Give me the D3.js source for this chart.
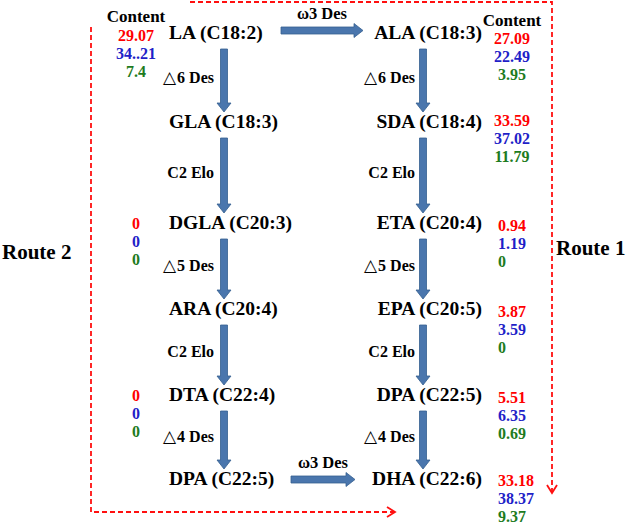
<!DOCTYPE html>
<html>
<head>
<meta charset="utf-8">
<script src="https://cdn.jsdelivr.net/npm/d3@7/dist/d3.min.js"></script>
<style>
  html, body { margin: 0; padding: 0; background: #fff; }
  text { font-family: "Liberation Serif", "Times New Roman", serif; font-weight: bold; }
</style>
</head>
<body>
<div id="chart"></div>
<script>
// ---------- data ----------
const leftNodes  = ["LA (C18:2)", "GLA (C18:3)", "DGLA (C20:3)", "ARA (C20:4)", "DTA (C22:4)", "DPA (C22:5)"];
const rightNodes = ["ALA (C18:3)", "SDA (C18:4)", "ETA (C20:4)", "EPA (C20:5)", "DPA (C22:5)", "DHA (C22:6)"];
const leftEnzymes  = ["△6 Des", "C2 Elo", "△5 Des", "C2 Elo", "△4 Des"];
const rightEnzymes = ["△6 Des", "C2 Elo", "△5 Des", "C2 Elo", "△4 Des"];
const crossEnzymes = ["ω3 Des", "ω3 Des"];          // LA→ALA (row 0), DPA→DHA (row 5)
const crossRows = [0, 5];
const contentTitle = "Content";
// content values per row (three samples each); null = no values shown
const leftContent = [
  ["29.07", "34..21", "7.4"], null, ["0", "0", "0"], null, ["0", "0", "0"], null
];
const rightContent = [
  ["27.09", "22.49", "3.95"], ["33.59", "37.02", "11.79"], ["0.94", "1.19", "0"],
  ["3.87", "3.59", "0"], ["5.51", "6.35", "0.69"], ["33.18", "38.37", "9.37"]
];
const routeLabels = ["Route 1", "Route 2"];

// ---------- layout / style ----------
const W = 637, H = 524;
const sampleColors = ["#ff0000", "#1f1fc8", "#1e7b1e"];
const arrowFill = "#4a76ad", arrowStroke = "#35608f", routeColor = "#ff1010";

const rowY = d3.scaleOrdinal().domain(d3.range(6)).range([39, 128, 229, 315, 401, 485]);
const colX = d3.scaleOrdinal().domain(["left", "right"]).range([224, 423]);   // arrow axes
const nodeX = d3.scaleOrdinal().domain(["left", "right"]).range([169, 482]);
const nodeAnchor = { left: "start", right: "end" };
const enzX = d3.scaleOrdinal().domain(["left", "right"]).range([214, 415]);
const valStep = 18;

const svg = d3.select("#chart").append("svg").attr("width", W).attr("height", H);

// vertical block arrow (down)
function vArrow(x, y0, y1) {
  const sw = 3.5, hw = 7, hl = 9;
  return `M${x - sw},${y0} L${x + sw},${y0} L${x + sw},${y1 - hl} L${x + hw},${y1 - hl} L${x},${y1} L${x - hw},${y1 - hl} L${x - sw},${y1 - hl} Z`;
}
function hArrow(x0, x1, y) {
  const sw = 3.5, hw = 7, hl = 9;
  return `M${x0},${y - sw} L${x1 - hl},${y - sw} L${x1 - hl},${y - hw} L${x1},${y} L${x1 - hl},${y + hw} L${x1 - hl},${y + sw} L${x0},${y + sw} Z`;
}
// enzyme label: enlarge the leading △ glyph
function enzText(sel, size) {
  sel.each(function(d) {
    const t = d3.select(this);
    if (d.startsWith("△")) {
      t.append("tspan").attr("font-family", "DejaVu Sans").attr("font-weight", "normal")
        .attr("font-size", size + 1).text("△");
      t.append("tspan").attr("dx", 1).text(d.slice(1));
    } else t.text(d);
  });
}

// ---------- route dashed lines ----------
const routes = svg.append("g").attr("fill", "none").attr("stroke", routeColor)
  .attr("stroke-width", 1.8);
routes.append("path").attr("stroke-dasharray", "5,3")
  .attr("d", `M190,2 H552 V492`);
routes.append("path").attr("d", "M547,485 L552,493 L557,485");
routes.append("path").attr("stroke-dasharray", "5,3")
  .attr("d", `M91,27 V512 H394`);
routes.append("path").attr("d", "M387,507 L395,512 L387,517");

svg.append("text").attr("x", 556).attr("y", 255).attr("font-size", 21).text(routeLabels[0]);
svg.append("text").attr("x", 2).attr("y", 259).attr("font-size", 21).text(routeLabels[1]);

// ---------- nodes ----------
[["left", leftNodes], ["right", rightNodes]].forEach(([side, nodes]) => {
  svg.append("g").selectAll("text").data(nodes).join("text")
    .attr("x", nodeX(side)).attr("y", (d, i) => rowY(i))
    .attr("text-anchor", nodeAnchor[side]).attr("font-size", 19.5).attr("fill", "#000")
    .text(d => d);
});

// ---------- vertical arrows + enzyme labels ----------
[["left", leftEnzymes], ["right", rightEnzymes]].forEach(([side, enz]) => {
  const g = svg.append("g");
  g.selectAll("path").data(enz).join("path")
    .attr("d", (d, i) => vArrow(colX(side), rowY(i) + 10, rowY(i + 1) - 16))
    .attr("fill", arrowFill).attr("stroke", arrowStroke).attr("stroke-width", 0.8);
  g.selectAll("text").data(enz).join("text")
    .attr("x", enzX(side)).attr("y", (d, i) => (rowY(i) + rowY(i + 1)) / 2 - 1)
    .attr("text-anchor", "end").attr("font-size", 16).call(enzText, 16);
});

// ---------- horizontal ω3 arrows ----------
const hSpec = [[281, 363, -8.5], [291, 355, -5.5]];
crossEnzymes.forEach((lab, k) => {
  const r = crossRows[k];
  const [x0, x1, dy] = hSpec[k];
  const y = rowY(r) + dy;
  svg.append("path").attr("d", hArrow(x0, x1, y))
    .attr("fill", arrowFill).attr("stroke", arrowStroke).attr("stroke-width", 0.8);
  svg.append("text").attr("x", (x0 + x1) / 2).attr("y", y - 12)
    .attr("text-anchor", "middle").attr("font-size", 16.5).text(lab);
});

// ---------- content values ----------
svg.append("text").attr("x", 136).attr("y", 22).attr("text-anchor", "middle")
  .attr("font-size", 17).text(contentTitle);
svg.append("text").attr("x", 512).attr("y", 26).attr("text-anchor", "middle")
  .attr("font-size", 17).text(contentTitle);

function valueGroup(vals, x, y0, anchor) {
  svg.append("g").selectAll("text").data(vals).join("text")
    .attr("x", x).attr("y", (d, j) => y0 + j * valStep)
    .attr("text-anchor", anchor).attr("font-size", 16)
    .attr("fill", (d, j) => sampleColors[j]).text(d => d);
}
leftContent.forEach((vals, i) => {
  if (!vals) return;
  const y0 = i === 0 ? 41 : rowY(i);
  valueGroup(vals, 136, y0, "middle");
});
rightContent.forEach((vals, i) => {
  if (!vals) return;
  if (i === 0) valueGroup(vals, 512, 44, "middle");
  else if (i === 1) valueGroup(vals, 512, rowY(i) - 2, "middle");
  else if (i === 5) valueGroup(vals, 498, rowY(i) + 1, "start");
  else valueGroup(vals, 498, rowY(i) + 2, "start");
});
</script>
</body>
</html>
